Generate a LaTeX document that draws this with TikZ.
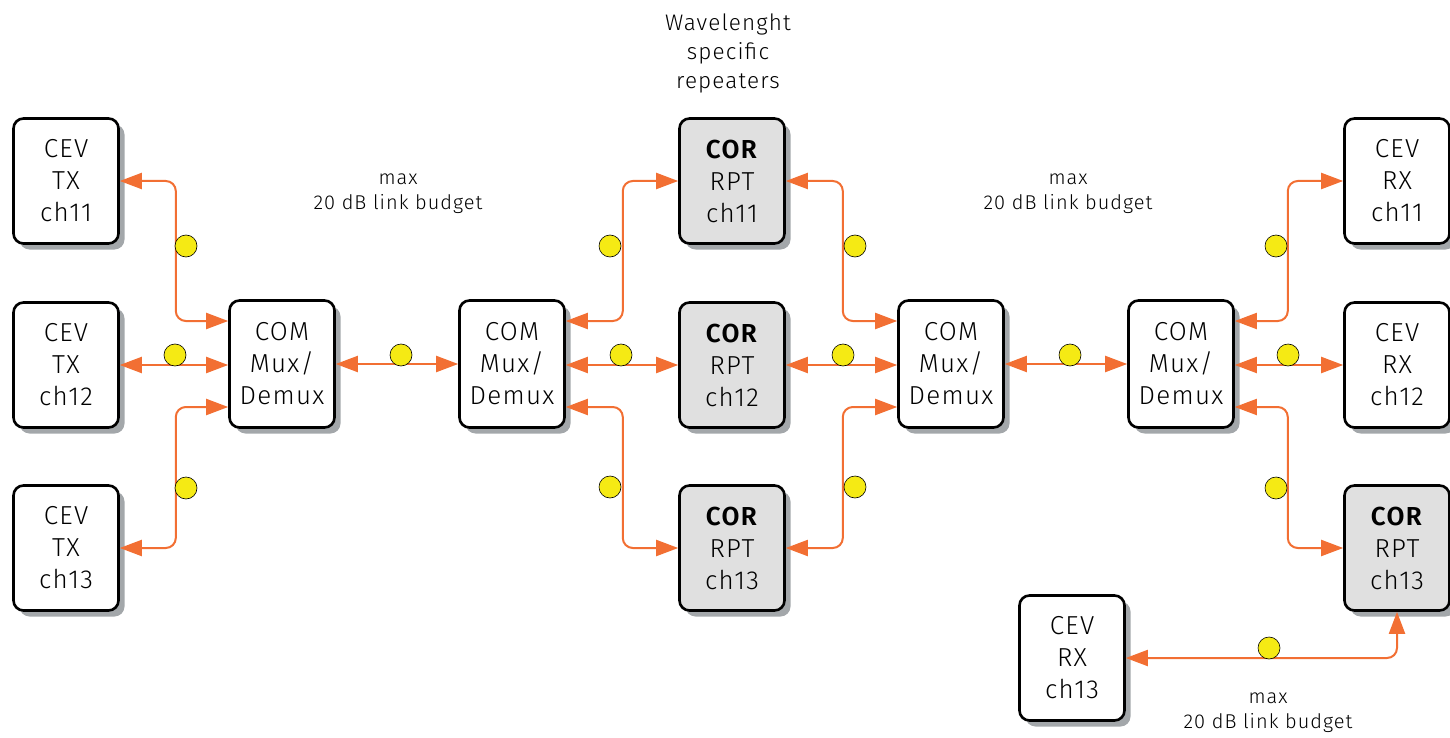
\documentclass[tikz,border=0pt]{standalone}
\usepackage{fontspec}
\setmainfont{Fira Sans}[UprightFont=* Light, BoldFont=* SemiBold, LetterSpace=5]
\usetikzlibrary{arrows.meta,shadows}
\definecolor{conncol}{HTML}{F26F33}
\definecolor{dotcol}{HTML}{F5EA14}
\definecolor{shadowcol}{HTML}{A3A7AA}
\definecolor{rptfill}{HTML}{E0E0E0}
\begin{document}
\begin{tikzpicture}[x=1pt,y=-1pt,
  box/.style={draw=black, line width=2.6pt, rounded corners=10pt, fill=white,
    minimum width=105pt, minimum height=125pt, align=center, inner sep=0pt,
    font=\fontsize{26}{32}\selectfont,
    drop shadow={shadow xshift=6pt, shadow yshift=-6pt, fill=shadowcol, opacity=1}},
  combox/.style={box, minimum height=127pt},
  rptbox/.style={box, fill=rptfill},
  conn/.style={draw=conncol, line width=2pt, rounded corners=10pt,
    {Triangle[length=22pt,width=16pt]}-{Triangle[length=22pt,width=16pt]}},
  dot/.style={circle, draw=black, line width=0.6pt, fill=dotcol, minimum size=22pt, inner sep=0pt},
  lab/.style={align=center, font=\fontsize{20}{25}\selectfont},
  title/.style={align=center, font=\fontsize{22.5}{29}\selectfont}]
\useasboundingbox (0,0) rectangle (1450,738);

% boxes
\node[box] (tx11) at (66,181) {CEV\\TX\\ch11};
\node[box] (tx12) at (66,365) {CEV\\TX\\ch12};
\node[box] (tx13) at (66,548) {CEV\\TX\\ch13};
\node[combox] (com1) at (282,364) {COM\\Mux/\\Demux};
\node[combox] (com2) at (512,364) {COM\\Mux/\\Demux};
\node[rptbox] (rpt11) at (732,181) {\textbf{COR}\\RPT\\ch11};
\node[rptbox] (rpt12) at (732,365) {\textbf{COR}\\RPT\\ch12};
\node[rptbox] (rpt13) at (732,548) {\textbf{COR}\\RPT\\ch13};
\node[combox] (com3) at (951,364) {COM\\Mux/\\Demux};
\node[combox] (com4) at (1181,364) {COM\\Mux/\\Demux};
\node[box] (rx11) at (1397,181) {CEV\\RX\\ch11};
\node[box] (rx12) at (1397,365) {CEV\\RX\\ch12};
\node[rptbox] (rpt13r) at (1397,548) {\textbf{COR}\\RPT\\ch13};
\node[box] (rx13) at (1072,658) {CEV\\RX\\ch13};

% labels
\node[title] (ttl) at (728,53) {Wavelenght\\specific\\repeaters};
\node[lab] (lb1) at (398,194) {max\\20 dB link budget};
\node[lab] (lb2) at (1068,194) {max\\20 dB link budget};
\node[lab] (lb3) at (1268,713) {max\\20 dB link budget};

% connectors
\draw[conn] (tx11.east) -- ++(56,0) |- ([yshift=43pt]com1.west);
\draw[conn] (tx12.east) -- (com1.west |- tx12.east);
\draw[conn] (tx13.east) -- ++(56,0) |- ([yshift=-43pt]com1.west);
\draw[conn] (com1.east) -- (com2.west);
\draw[conn] ([yshift=43pt]com2.east) -- ++(57,0) |- (rpt11.west);
\draw[conn] (com2.east |- rpt12.west) -- (rpt12.west);
\draw[conn] ([yshift=-43pt]com2.east) -- ++(57,0) |- (rpt13.west);
\draw[conn] (rpt11.east) -- ++(57,0) |- ([yshift=43pt]com3.west);
\draw[conn] (rpt12.east) -- (com3.west |- rpt12.east);
\draw[conn] (rpt13.east) -- ++(57,0) |- ([yshift=-43pt]com3.west);
\draw[conn] (com3.east) -- (com4.west);
\draw[conn] ([yshift=43pt]com4.east) -- ++(53,0) |- (rx11.west);
\draw[conn] (com4.east |- rx12.west) -- (rx12.west);
\draw[conn] ([yshift=-43pt]com4.east) -- ++(53,0) |- (rpt13r.west);
\draw[conn] (rx13.east) -| (rpt13r.south);

% dots
\node[dot] (d1) at (186,246) {};
\node[dot] (d2) at (175,355) {};
\node[dot] (d3) at (186,488) {};
\node[dot] (d4) at (401,355) {};
\node[dot] (d5) at (610,246) {};
\node[dot] (d6) at (621,355) {};
\node[dot] (d7) at (610,487) {};
\node[dot] (d8) at (855,246) {};
\node[dot] (d9) at (843,355) {};
\node[dot] (d10) at (855,487) {};
\node[dot] (d11) at (1070,355) {};
\node[dot] (d12) at (1276,246) {};
\node[dot] (d13) at (1288,355) {};
\node[dot] (d14) at (1276,488) {};
\node[dot] (d15) at (1269,648) {};
\end{tikzpicture}
\end{document}
